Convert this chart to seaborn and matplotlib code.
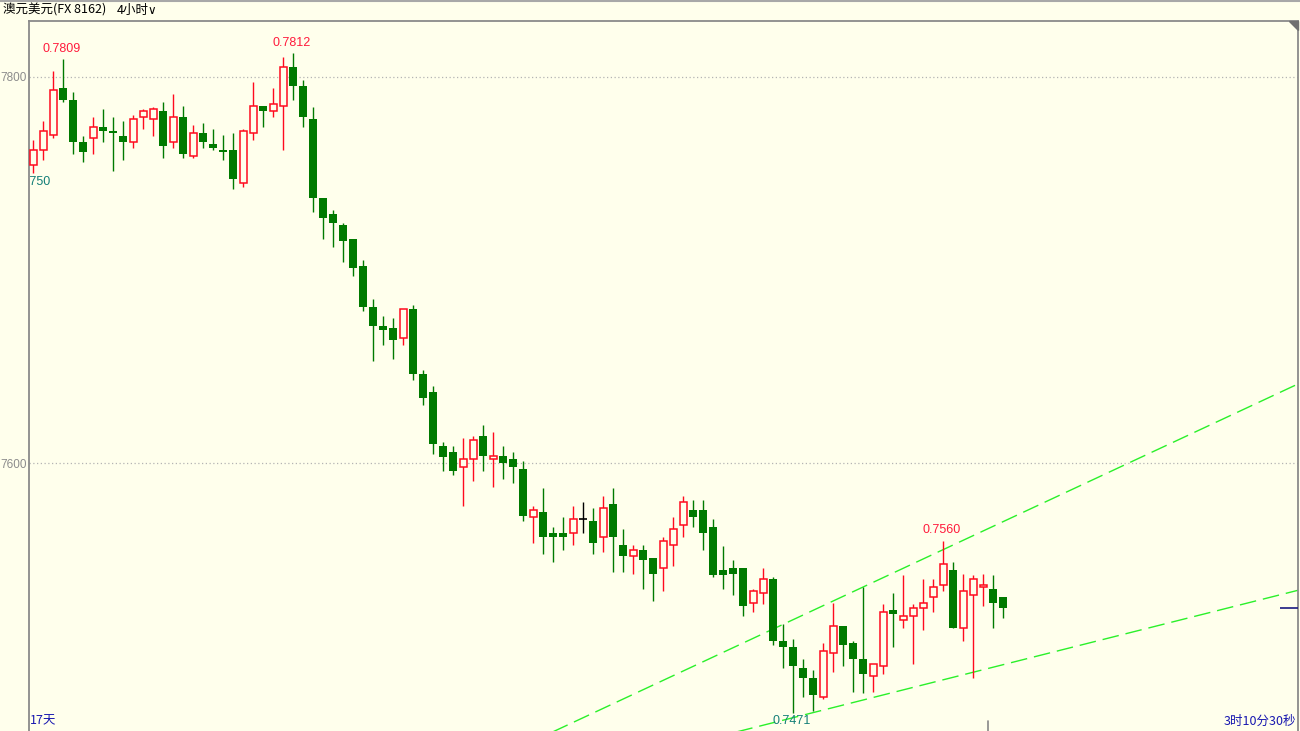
import numpy as np
import pandas as pd
import matplotlib
matplotlib.use("Agg")
import matplotlib.pyplot as plt
from matplotlib.patches import Polygon
import seaborn as sns

# 澳元美元 4小时 K线 (open, high, low, close)
opens = [0.7754, 0.7762, 0.7770, 0.7794, 0.7788, 0.7766, 0.7768, 0.7774, 0.7772, 0.7769,
         0.7766, 0.7779, 0.7778, 0.7782, 0.7766, 0.7779, 0.7759, 0.7771, 0.7765, 0.7762,
         0.7762, 0.7745, 0.7771, 0.7785, 0.7782, 0.7785, 0.7805, 0.7795, 0.7778, 0.7737,
         0.7729, 0.7723, 0.7716, 0.7702, 0.7681, 0.7671, 0.7670, 0.7665, 0.7680, 0.7646,
         0.7637, 0.7609, 0.7606, 0.7598, 0.7602, 0.7614, 0.7602, 0.7604, 0.7602, 0.7597,
         0.7572, 0.7575, 0.7564, 0.7564, 0.7564, 0.7571, 0.7570, 0.7562, 0.7579, 0.7558,
         0.7552, 0.7555, 0.7551, 0.7546, 0.7558, 0.7568, 0.7576, 0.7576, 0.7567, 0.7545,
         0.7546, 0.7546, 0.7528, 0.7533, 0.7540, 0.7508, 0.7505, 0.7494, 0.7489, 0.7479,
         0.7502, 0.7516, 0.7507, 0.7499, 0.7490, 0.7495, 0.7524, 0.7519, 0.7521, 0.7525,
         0.7531, 0.7537, 0.7545, 0.7515, 0.7532, 0.7536, 0.7535, 0.7531]
highs = [0.7767, 0.7777, 0.7803, 0.7809, 0.7792, 0.7769, 0.7779, 0.7783, 0.7779, 0.7777,
         0.7780, 0.7783, 0.7784, 0.7787, 0.7791, 0.7785, 0.7775, 0.7776, 0.7773, 0.7770,
         0.7771, 0.7773, 0.7797, 0.7785, 0.7794, 0.7810, 0.7812, 0.7798, 0.7784, 0.7737,
         0.7731, 0.7724, 0.7716, 0.7705, 0.7685, 0.7676, 0.7675, 0.7680, 0.7682, 0.7648,
         0.7640, 0.7611, 0.7609, 0.7613, 0.7614, 0.7620, 0.7616, 0.7609, 0.7606, 0.7601,
         0.7578, 0.7587, 0.7567, 0.7572, 0.7578, 0.7580, 0.7577, 0.7583, 0.7587, 0.7566,
         0.7558, 0.7558, 0.7551, 0.7562, 0.7572, 0.7583, 0.7581, 0.7581, 0.7571, 0.7557,
         0.7550, 0.7546, 0.7535, 0.7546, 0.7541, 0.7517, 0.7509, 0.7499, 0.7493, 0.7507,
         0.7528, 0.7516, 0.7508, 0.7536, 0.7496, 0.7527, 0.7533, 0.7542, 0.7527, 0.7540,
         0.7540, 0.7560, 0.7549, 0.7543, 0.7542, 0.7543, 0.7542, 0.7531]
lows = [0.7750, 0.7757, 0.7768, 0.7787, 0.7760, 0.7756, 0.7760, 0.7766, 0.7751, 0.7757,
        0.7763, 0.7773, 0.7769, 0.7758, 0.7763, 0.7758, 0.7758, 0.7763, 0.7762, 0.7757,
        0.7742, 0.7743, 0.7767, 0.7774, 0.7779, 0.7762, 0.7788, 0.7774, 0.7730, 0.7716,
        0.7712, 0.7704, 0.7697, 0.7679, 0.7653, 0.7661, 0.7654, 0.7661, 0.7643, 0.7630,
        0.7605, 0.7596, 0.7594, 0.7578, 0.7591, 0.7596, 0.7588, 0.7592, 0.7590, 0.7570,
        0.7559, 0.7553, 0.7549, 0.7555, 0.7558, 0.7564, 0.7553, 0.7554, 0.7544, 0.7544,
        0.7543, 0.7535, 0.7529, 0.7534, 0.7547, 0.7562, 0.7567, 0.7555, 0.7541, 0.7535,
        0.7532, 0.7521, 0.7523, 0.7527, 0.7506, 0.7494, 0.7471, 0.7479, 0.7472, 0.7478,
        0.7492, 0.7495, 0.7482, 0.7481, 0.7482, 0.7491, 0.7505, 0.7515, 0.7496, 0.7514,
        0.7523, 0.7534, 0.7515, 0.7508, 0.7489, 0.7526, 0.7515, 0.7520]
closes = [0.7762, 0.7772, 0.7793, 0.7788, 0.7766, 0.7761, 0.7774, 0.7772, 0.7771, 0.7766,
          0.7778, 0.7782, 0.7783, 0.7764, 0.7779, 0.7760, 0.7771, 0.7766, 0.7763, 0.7761,
          0.7747, 0.7772, 0.7785, 0.7782, 0.7786, 0.7805, 0.7795, 0.7779, 0.7737, 0.7727,
          0.7724, 0.7715, 0.7701, 0.7681, 0.7671, 0.7669, 0.7664, 0.7680, 0.7646, 0.7634,
          0.7610, 0.7603, 0.7596, 0.7602, 0.7612, 0.7604, 0.7604, 0.7600, 0.7598, 0.7573,
          0.7576, 0.7562, 0.7562, 0.7562, 0.7571, 0.7571, 0.7559, 0.7577, 0.7562, 0.7552,
          0.7555, 0.7550, 0.7543, 0.7560, 0.7566, 0.7580, 0.7572, 0.7564, 0.7542, 0.7542,
          0.7543, 0.7526, 0.7534, 0.7540, 0.7508, 0.7505, 0.7495, 0.7489, 0.7480, 0.7503,
          0.7516, 0.7506, 0.7499, 0.7491, 0.7496, 0.7523, 0.7522, 0.7521, 0.7525, 0.7528,
          0.7536, 0.7548, 0.7515, 0.7534, 0.7540, 0.7537, 0.7528, 0.7525]

# 标注的高低点 (K线序号)
high_marks = [3, 26, 91]
low_marks = [0, 76]

# 趋势线 (两个锚点: K线序号, 价格)
upper_idx = [70, 120]
upper_px = [0.75047, 0.76254]
lower_idx = [76, 120]
lower_px = [0.74685, 0.75259]

y_ticks = [0.7800, 0.7600]
y_tick_labels = ["7800", "7600"]
day_breaks = [95.5]

BG = "#FFFFEC"
GREEN = "#007A00"
RED = "#FF0A1E"

sns.set_style("white", {"axes.facecolor": BG, "figure.facecolor": BG})
plt.rcParams["font.family"] = ["Liberation Sans", "Noto Sans CJK SC", "DejaVu Sans"]
CJK = ["Noto Sans CJK SC", "DejaVu Sans"]

fig = plt.figure(figsize=(13, 7.31), dpi=100)
ax = fig.add_axes([29 / 1300, 0, 1269 / 1300, 710 / 731])

df = pd.DataFrame({"o": opens, "h": highs, "l": lows, "c": closes})
df["i"] = np.arange(len(df))
up = df["c"] > df["o"]
down = df["c"] < df["o"]
flat = df["c"] == df["o"]
wick_col = np.where(up, RED, np.where(down, GREEN, "black"))

# 影线
ax.vlines(df["i"], df["l"], df["h"], colors=wick_col, lw=1.0, zorder=2)

# 实体
bottom = np.minimum(df["o"], df["c"])
height = np.maximum((df["c"] - df["o"]).abs(), 0.00003)
ax.bar(df["i"][down], height[down], bottom=bottom[down], width=0.82,
       color=GREEN, linewidth=0, zorder=3)
ax.bar(df["i"][up], height[up], bottom=bottom[up], width=0.72,
       facecolor=BG, edgecolor=RED, linewidth=1.1, zorder=3)
ax.hlines(df["o"][flat], df["i"][flat] - 0.4, df["i"][flat] + 0.4,
          colors="black", lw=1.2, zorder=3)

# 趋势线
x0, x1 = 40, 128
for xi, pi in [(upper_idx, upper_px), (lower_idx, lower_px)]:
    k = (pi[1] - pi[0]) / (xi[1] - xi[0])
    tl = pd.DataFrame({"x": [x0, x1], "y": [pi[0] + k * (x0 - xi[0]), pi[0] + k * (x1 - xi[0])]})
    sns.lineplot(data=tl, x="x", y="y", ax=ax, color="#2AF02A", lw=1.0,
                 linestyle=(0, (12, 5)), zorder=1)

# 网格
for t in y_ticks:
    ax.axhline(t, color="#B4B4B4", lw=0.9, ls=(0, (1, 2)), zorder=0)

# 高低点标注
for i in high_marks:
    ax.annotate(f"{highs[i]:.4f}", (i, highs[i]), xytext=(-1.5, 3), textcoords="offset points",
                ha="center", va="bottom", color="#FF1A3C", fontsize=9)
for i in low_marks:
    ax.text(i - 0.15, lows[i] - 0.00013, f"{lows[i]:.4f}", ha="center", va="top",
            color="#137F77", fontsize=9, clip_on=True)

# 当前价
xmin, xmax = -0.43, 126.47
ax.hlines(closes[-1], xmax - 1.8, xmax, colors="#1A1A80", lw=1.2, zorder=4)
for d in day_breaks:
    ax.axvline(d, ymin=0, ymax=0.014, color="#888888", lw=1.2)

ax.set_xlim(xmin, xmax)
ax.set_ylim(0.746158, 0.782870)
ax.set_xticks([])
ax.set_yticks(y_ticks)
ax.set_yticklabels(y_tick_labels, color="#8C8C8C", fontsize=8.5)
ax.tick_params(axis="y", length=0, pad=1.5)
ax.set_xlabel("")
ax.set_ylabel("")
for s in ["left", "right", "top"]:
    ax.spines[s].set_visible(True)
    ax.spines[s].set_color("#8A8A8A")
    ax.spines[s].set_linewidth(1.3)
ax.spines["bottom"].set_visible(False)

# 标题栏
fig.add_artist(plt.Line2D([0, 1], [0.999, 0.999], transform=fig.transFigure,
                          color="#A8A8A8", lw=1.5))
fig.text(3 / 1300, 1 - 10 / 731, "澳元美元(FX 8162)", ha="left", va="center",
         fontsize=9, family=CJK, color="black")
fig.text(117 / 1300, 1 - 10 / 731, "4小时", ha="left", va="center",
         fontsize=9, family=CJK, color="black")
fig.text(147 / 1300, 1 - 10 / 731, "∨", ha="left", va="center", fontsize=8.5,
         family=["DejaVu Sans"], color="black")
fig.add_artist(Polygon([[1289 / 1300, 1 - 21 / 731], [1298 / 1300, 1 - 21 / 731],
                        [1298 / 1300, 1 - 30 / 731]], closed=True,
                       transform=fig.transFigure, color="#707070"))

fig.text(30 / 1300, 1 - 721 / 731, "17天", ha="left", va="center", fontsize=9,
         family=CJK, color="#1818B0")
fig.text(1296 / 1300, 1 - 721 / 731, "3时10分30秒", ha="right", va="center", fontsize=9,
         family=CJK, color="#1818B0")

fig.savefig("out.png", dpi=100, facecolor=BG)
